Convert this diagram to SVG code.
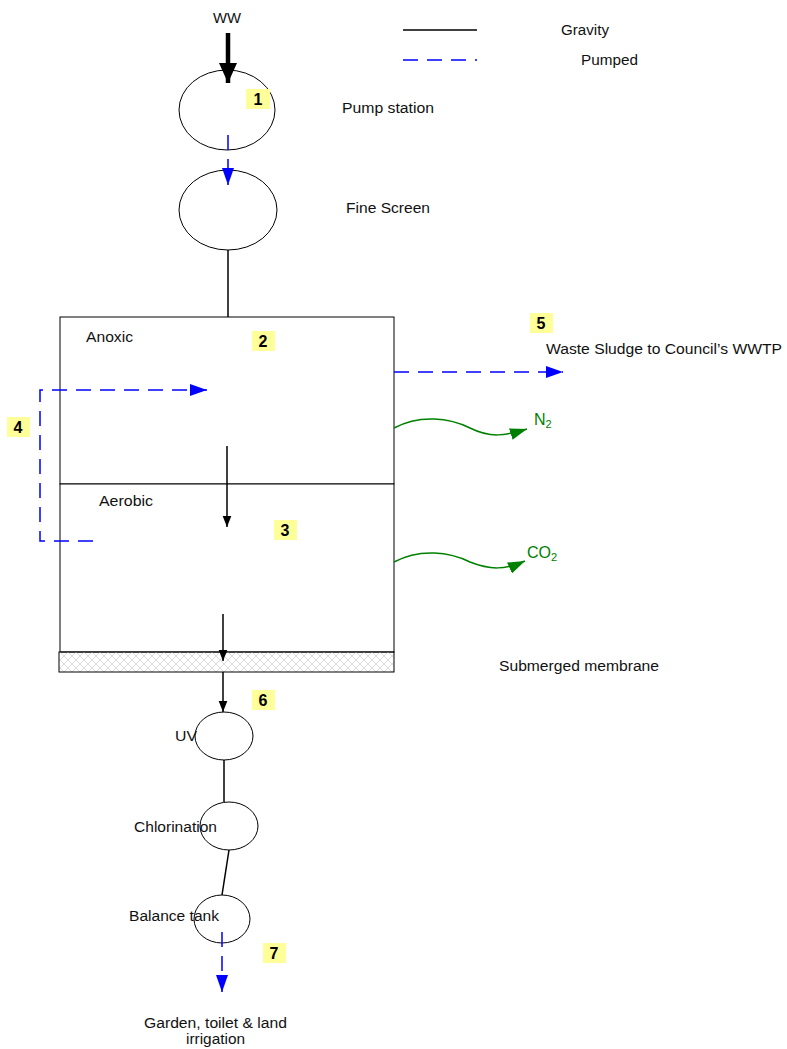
<svg xmlns="http://www.w3.org/2000/svg" width="787" height="1049" viewBox="0 0 787 1049">
<style>
text{font-family:"Liberation Sans",Arial,sans-serif;font-size:14px;fill:#111}
.lbl rect{fill:#ffff99}
.lbl text{font-weight:bold;font-size:16px;text-anchor:middle;fill:#000}
.node{fill:#fff;stroke:#000;stroke-width:1}
.g{stroke:#000;stroke-width:1.5;fill:none}
.p{stroke:#0000ff;stroke-width:1.5;fill:none;stroke-dasharray:15,9}
.gas{stroke:#008000;stroke-width:1.5;fill:none}
.gt{fill:#008000;font-size:16px}
</style>
<defs>
<marker id="ab" markerWidth="11" markerHeight="14" refX="14" refY="5.5" orient="auto" markerUnits="userSpaceOnUse" viewBox="0 0 14 11"><path d="M0,0 L14,5.5 L0,11 z" fill="#000"/></marker>
<marker id="abb" markerWidth="20" markerHeight="18" refX="20" refY="9" orient="auto" markerUnits="userSpaceOnUse" viewBox="0 0 20 18"><path d="M0,0 L20,9 L0,18 z" fill="#000"/></marker>
<marker id="ap" markerWidth="17" markerHeight="12" refX="17" refY="6" orient="auto" markerUnits="userSpaceOnUse" viewBox="0 0 17 12"><path d="M0,0 L17,6 L0,12 z" fill="#0000ff"/></marker>
<marker id="ag" markerWidth="17" markerHeight="12" refX="17" refY="6" orient="auto" markerUnits="userSpaceOnUse" viewBox="0 0 17 12"><path d="M0,0 L17,6 L0,12 z" fill="#008000"/></marker>
<pattern id="hatch" width="8" height="8" patternUnits="userSpaceOnUse">
<path d="M0,0 L8,8 M8,0 L0,8" stroke="#d8d8d8" stroke-width="0.9"/>
</pattern>
</defs>
<g id="legend">
<line x1="403" y1="30" x2="477" y2="30" stroke="#000" stroke-width="1.5"/>
<line x1="403" y1="60" x2="477" y2="60" class="p" stroke-dasharray="13,8"/>
<text x="561" y="35" textLength="48" lengthAdjust="spacingAndGlyphs">Gravity</text>
<text x="581" y="65" textLength="57" lengthAdjust="spacingAndGlyphs">Pumped</text>
</g>
<g id="ww"><text x="213" y="23" textLength="28" lengthAdjust="spacingAndGlyphs">WW</text></g>
<g id="pump-station">
<ellipse cx="227" cy="110" rx="48" ry="40" class="node"/>
<text x="342" y="113" textLength="92" lengthAdjust="spacingAndGlyphs">Pump station</text>
</g>
<g id="fine-screen">
<ellipse cx="228" cy="210" rx="49" ry="40" class="node"/>
<text x="346" y="213" textLength="84" lengthAdjust="spacingAndGlyphs">Fine Screen</text>
</g>
<g id="anoxic">
<rect x="60" y="317" width="334" height="167" class="node"/>
<text x="86" y="342" textLength="47" lengthAdjust="spacingAndGlyphs">Anoxic</text>
</g>
<g id="aerobic">
<rect x="60" y="484" width="334" height="168" class="node"/>
<text x="99" y="506" textLength="54" lengthAdjust="spacingAndGlyphs">Aerobic</text>
</g>
<g id="membrane">
<rect x="59" y="652" width="335" height="20" fill="url(#hatch)" stroke="#000" stroke-width="1"/>
<text x="499" y="671" textLength="160" lengthAdjust="spacingAndGlyphs">Submerged membrane</text>
</g>
<g id="uv">
<ellipse cx="224" cy="736" rx="29" ry="24" class="node"/>
<text x="175" y="741" textLength="22" lengthAdjust="spacingAndGlyphs">UV</text>
</g>
<g id="chlorination">
<ellipse cx="229" cy="826" rx="29" ry="24" class="node"/>
<text x="134" y="832" textLength="83" lengthAdjust="spacingAndGlyphs">Chlorination</text>
</g>
<g id="balance-tank">
<ellipse cx="222" cy="919" rx="28" ry="24" class="node"/>
<text x="129" y="921" textLength="90" lengthAdjust="spacingAndGlyphs">Balance tank</text>
</g>
<g id="outputs">
<text x="546" y="354" textLength="236" lengthAdjust="spacingAndGlyphs">Waste Sludge to Council’s WWTP</text>
<text x="534" y="425" class="gt">N<tspan font-size="11" dy="3">2</tspan></text>
<text x="527" y="558" class="gt">CO<tspan font-size="11" dy="3">2</tspan></text>
<text x="144" y="1028" textLength="143" lengthAdjust="spacingAndGlyphs">Garden, toilet &amp; land</text>
<text x="186" y="1044" textLength="59" lengthAdjust="spacingAndGlyphs">irrigation</text>
</g>
<g id="connectors">
<line x1="228" y1="33" x2="228" y2="83" stroke="#000" stroke-width="4.5" marker-end="url(#abb)"/>
<line x1="228" y1="135" x2="228" y2="185" class="p" stroke-dasharray="10,6" marker-end="url(#ap)"/>
<line x1="228" y1="250" x2="228" y2="317" class="g"/>
<polyline points="93,541 40,541 40,390 207,390" class="p" marker-end="url(#ap)"/>
<line x1="227" y1="446" x2="227" y2="527" class="g" marker-end="url(#ab)"/>
<line x1="223" y1="614" x2="223" y2="661" class="g" marker-end="url(#ab)"/>
<line x1="223" y1="672" x2="223" y2="712" class="g" marker-end="url(#ab)"/>
<line x1="394" y1="372" x2="563" y2="372" class="p" marker-end="url(#ap)"/>
<path d="M394,428 C420,414 450,418 470,428 C490,438 505,436 527,429" class="gas" marker-end="url(#ag)"/>
<path d="M394,562 C420,548 450,552 470,562 C490,570 505,570 525,561" class="gas" marker-end="url(#ag)"/>
<line x1="224" y1="760" x2="224" y2="802" class="g"/>
<line x1="229" y1="850" x2="222" y2="895" class="g"/>
<line x1="222" y1="932" x2="222" y2="992" class="p" stroke-dasharray="10,6" marker-end="url(#ap)"/>
</g>
<g id="labels">
<g class="lbl" id="l1"><rect x="246" y="89" width="24" height="20"/><text x="258" y="105">1</text></g>
<g class="lbl" id="l2"><rect x="252" y="331" width="23" height="20"/><text x="263" y="347">2</text></g>
<g class="lbl" id="l3"><rect x="274" y="520" width="23" height="20"/><text x="285" y="536">3</text></g>
<g class="lbl" id="l4"><rect x="7" y="417" width="23" height="20"/><text x="18" y="433">4</text></g>
<g class="lbl" id="l5"><rect x="530" y="313" width="23" height="20"/><text x="541" y="329">5</text></g>
<g class="lbl" id="l6"><rect x="252" y="690" width="23" height="20"/><text x="263" y="706">6</text></g>
<g class="lbl" id="l7"><rect x="263" y="943" width="23" height="20"/><text x="274" y="959">7</text></g>
</g>
</svg>
